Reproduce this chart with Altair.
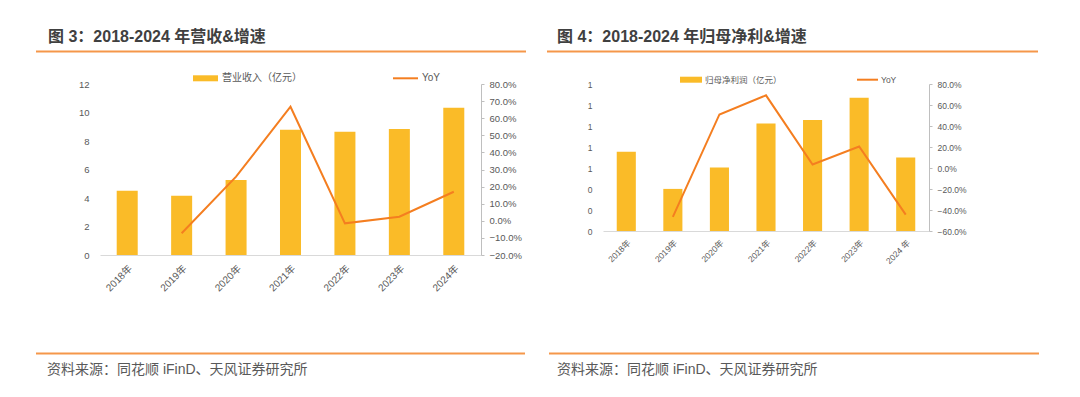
import altair as alt
import pandas as pd

# ---------------- data ----------------
years_rev = ["2018年", "2019年", "2020年", "2021年", "2022年", "2023年", "2024年"]
revenue = [4.51, 4.16, 5.26, 8.79, 8.65, 8.84, 10.34]
revenue_yoy = [None, -0.073, 0.258, 0.667, -0.015, 0.024, 0.170]

years_np = ["2018年", "2019年", "2020年", "2021年", "2022年", "2023年", "2024 年"]
net_profit = [0.754, 0.401, 0.604, 1.024, 1.056, 1.270, 0.700]
net_profit_yoy = [None, -0.466, 0.510, 0.692, 0.033, 0.205, -0.444]

rev_ticks = [0, 2, 4, 6, 8, 10, 12]
rev_yoy_ticks = [-0.2, -0.1, 0.0, 0.1, 0.2, 0.3, 0.4, 0.5, 0.6, 0.7, 0.8]
np_ticks = [0, 0.2, 0.4, 0.6, 0.8, 1.0, 1.2, 1.4]
np_yoy_ticks = [-0.6, -0.4, -0.2, 0.0, 0.2, 0.4, 0.6, 0.8]

title_left = "图 3：2018-2024 年营收&增速"
title_right = "图 4：2018-2024 年归母净利&增速"
legend_left = "营业收入（亿元）"
legend_right = "归母净利润（亿元）"
source_text = "资料来源：同花顺 iFinD、天风证券研究所"

# ---------------- style ----------------
FONT = "'Liberation Sans', 'Noto Sans CJK SC', sans-serif"
BAR = "#FABB28"
LINE = "#F47E20"
RULE = "#F5974A"
LABEL = "#595959"
TITLE = "#404040"

one = pd.DataFrame({"k": [0]})


def deco_text(txt, x, y, size, color=LABEL, weight="normal"):
    return alt.Chart(one).mark_text(
        align="left", baseline="middle", font=FONT, fontSize=size,
        fontWeight=weight, color=color
    ).encode(x=alt.value(x), y=alt.value(y), text=alt.value(txt))


def deco_rule(x1, x2, y, color, width):
    return alt.Chart(one).mark_rule(color=color, strokeWidth=width).encode(
        x=alt.value(x1), x2=alt.value(x2), y=alt.value(y)
    )


def deco_rect(x1, x2, y1, y2, color):
    return alt.Chart(one).mark_rect(color=color).encode(
        x=alt.value(x1), x2=alt.value(x2), y=alt.value(y1), y2=alt.value(y2)
    )


def panel(years, vals, yoy, width, height, bar_dom, bar_ticks, bar_fmt,
          yoy_dom, yoy_ticks, band_frac, fsize, xfsize, xpad, geo,
          background=None):
    df = pd.DataFrame({"year": years, "val": vals, "yoy": yoy})
    x = alt.X(
        "year:N", sort=years, title=None,
        scale=alt.Scale(paddingInner=0, paddingOuter=0),
        axis=alt.Axis(labelAngle=315, labelAlign="right", labelBaseline="top",
                      labelPadding=xpad, ticks=False, domainColor="#D9D9D9",
                      labelColor=LABEL, labelFont=FONT, labelFontSize=xfsize,
                      zindex=1),
    )
    bars = alt.Chart(df).mark_bar(
        color=BAR, width=alt.RelativeBandSize(band_frac)
    ).encode(
        x=x,
        y=alt.Y("val:Q", title=None,
                scale=alt.Scale(domain=bar_dom, nice=False, zero=True),
                axis=alt.Axis(values=bar_ticks, format=bar_fmt, domain=False,
                              ticks=False, grid=False, labelPadding=11,
                              labelColor=LABEL, labelFont=FONT,
                              labelFontSize=fsize, zindex=1)),
    )
    line = alt.Chart(df).transform_filter("isValid(datum.yoy)").mark_line(
        color=LINE, strokeWidth=2
    ).encode(
        x=x,
        y=alt.Y("yoy:Q", title=None,
                scale=alt.Scale(domain=yoy_dom, nice=False, zero=False),
                axis=alt.Axis(orient="right", values=yoy_ticks, format=".1%",
                              domainColor="#BFBFBF", tickColor="#BFBFBF",
                              tickSize=3, grid=False, labelPadding=5,
                              labelColor=LABEL, labelFont=FONT,
                              labelFontSize=fsize, zindex=1)),
    )
    layers = []
    if background is not None:
        layers.append(deco_rect(*background, "white"))
    layers += [
        bars,
        line,
        deco_text(geo["title"], geo["tx"], -47.5, 16, TITLE, "bold"),
        deco_rule(geo["r1"][0], geo["r1"][1], -32.5, RULE, 2),
        deco_rule(geo["r2"][0], geo["r2"][1], 269.5, RULE, 2),
        deco_text(source_text, geo["sx"], 286, 14, LABEL),
        deco_rect(geo["lr"][0], geo["lr"][1], geo["ly"] - 3, geo["ly"] + 3, BAR),
        deco_text(geo["legend"], geo["lt"], geo["ly"], geo["lfs"], LABEL),
        deco_rule(geo["ll"][0], geo["ll"][1], geo["ly"], LINE, 2),
        deco_text("YoY", geo["lyt"], geo["ly"], geo["lfs"], LABEL),
    ]
    return alt.layer(*layers).resolve_scale(y="independent").properties(
        width=width, height=height
    )


left = panel(
    years_rev, revenue, revenue_yoy, 381, 171,
    [0, 12], rev_ticks, "d", [-0.2, 0.8], rev_yoy_ticks, 0.386, 9.5, 10, 8,
    dict(title=title_left, tx=-52, r1=(-64, 426), r2=(-64, 425), sx=-53,
         lr=(93, 118), ly=-5.7, lt=122, lfs=10, ll=(293, 318), lyt=322,
         legend=legend_left),
    background=(-92, 972, -76, 300),
)

right = panel(
    years_np, net_profit, net_profit_yoy, 326, 147,
    [0, 1.4], np_ticks, ".0f", [-0.6, 0.8], np_yoy_ticks, 0.41, 8.5, 8.5, 7,
    dict(title=title_right, tx=-46, r1=(-56, 435), r2=(-54, 436), sx=-46,
         lr=(77, 99), ly=-4.3, lt=102, lfs=8.5, ll=(254, 275), lyt=278,
         legend=legend_right),
)

chart = alt.hconcat(left, right, spacing=122, bounds="flush").properties(
    padding=0
).configure_view(stroke=None)

chart.save("out.html", embed_options={"renderer": "svg", "actions": False})
